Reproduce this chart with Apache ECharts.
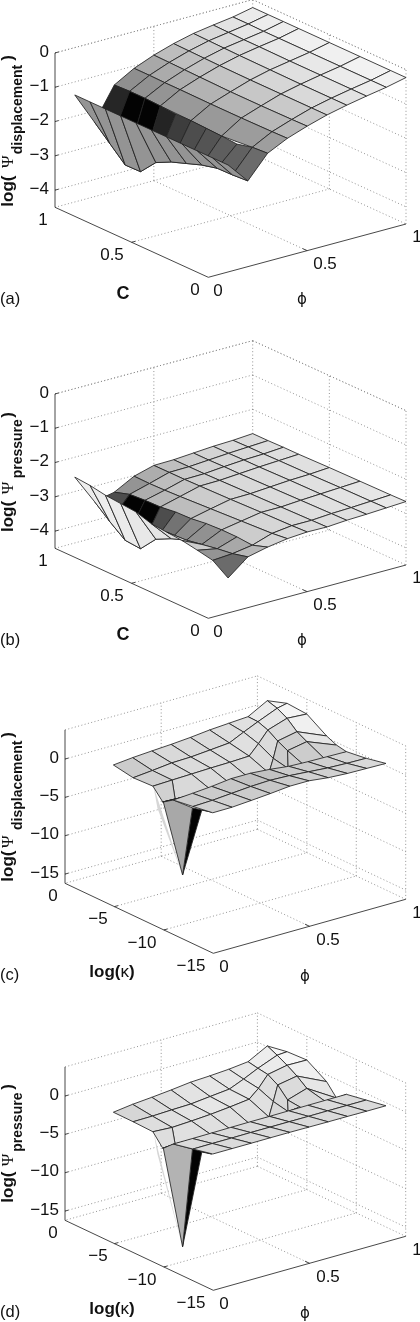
<!DOCTYPE html>
<html><head><meta charset="utf-8">
<style>html,body{margin:0;padding:0;background:#fff}#c{width:420px;height:1322px}</style>
<script src="https://cdn.jsdelivr.net/npm/echarts@6/dist/echarts.min.js"></script>
</head><body><div id="c"></div>
<script>
// ---------- data ----------
const phiGrid = [0.1,0.2,0.3,0.4,0.5,0.6,0.7,0.8,0.9,1];
const cGrid = [1,0.9,0.8,0.7,0.6,0.5,0.4,0.3,0.2,0.1,0];
const rearColumns = [0,1,2,3,5,7,9,10]; // the mesh is coarser behind the front rows
const zA = [
 [-1.38,-1.38,-1.38,-1.38,-1.38,-1.38,-1.38,-1.38,-1.38,-1.38,-1.38],
 [-2.33,-2.75,-3.17,-3.16,-2.69,-2.47,-2.31,-2.15,-2.04,-2.03,-2.00],
 [-1.40,-1.38,-1.38,-1.40,-1.43,-1.42,-1.44,-1.46,-1.49,-1.38,-1.35],
 [-1.07,-1.07,-1.08,-1.08,-1.09,-1.09,-1.09,-1.09,-1.08,-1.08,-1.07],
 [-0.84,-0.85,-0.86,-0.87,-0.88,-0.89,-0.89,-0.89,-0.88,-0.88,-0.87],
 [-0.66,-0.67,-0.68,-0.69,-0.70,-0.70,-0.70,-0.70,-0.70,-0.70,-0.70],
 [-0.52,-0.53,-0.54,-0.55,-0.56,-0.56,-0.57,-0.57,-0.57,-0.57,-0.57],
 [-0.43,-0.44,-0.45,-0.45,-0.46,-0.46,-0.46,-0.46,-0.46,-0.46,-0.46],
 [-0.35,-0.35,-0.36,-0.36,-0.36,-0.36,-0.36,-0.36,-0.36,-0.36,-0.36],
 [-0.23,-0.23,-0.23,-0.23,-0.23,-0.23,-0.23,-0.23,-0.23,-0.23,-0.23]
];
const shadeAFront = [
 [.58,.58,.58,.58,.58,.58,.58,.58,.58,.58],
 [.15,.01,.01,.14,.24,.30,.33,.37,.38,.42]
];
const shadeARear = [
 [.56,.57,.58,.60,.60,.61,.62],
 [.66,.67,.68,.70,.71,.72,.72],
 [.74,.75,.76,.77,.78,.79,.79],
 [.81,.81,.82,.83,.84,.85,.85],
 [.85,.86,.86,.87,.88,.89,.89],
 [.89,.90,.90,.91,.91,.92,.93],
 [.92,.93,.93,.94,.94,.95,.95],
 [.96,.96,.96,.97,.97,.97,.97]
];
const zB = [
 [-2.58,-2.62,-2.70,-2.74,-2.78,-2.92,-2.96,-3.00,-3.08,-3.17,-3.48],
 [-3.45,-3.83,-4.17,-4.21,-3.73,-3.51,-3.35,-3.27,-3.19,-3.13,-3.02],
 [-3.33,-3.19,-3.16,-3.15,-3.09,-3.08,-3.02,-3.00,-3.00,-3.04,-2.89],
 [-3.02,-3.03,-3.02,-3.00,-2.97,-2.95,-2.92,-2.90,-2.88,-2.85,-2.80],
 [-2.86,-2.86,-2.86,-2.85,-2.84,-2.83,-2.82,-2.80,-2.79,-2.78,-2.76],
 [-2.85,-2.85,-2.85,-2.84,-2.83,-2.82,-2.81,-2.80,-2.79,-2.78,-2.77],
 [-2.81,-2.81,-2.80,-2.80,-2.79,-2.78,-2.77,-2.76,-2.75,-2.74,-2.73],
 [-2.77,-2.77,-2.76,-2.76,-2.75,-2.74,-2.74,-2.73,-2.72,-2.72,-2.71],
 [-2.75,-2.74,-2.74,-2.73,-2.72,-2.72,-2.71,-2.70,-2.70,-2.69,-2.68],
 [-2.71,-2.71,-2.70,-2.70,-2.69,-2.68,-2.68,-2.67,-2.66,-2.66,-2.65]
];
const shadeBFront = [
 [.93,.93,.92,.91,.90,.88,.86,.80,.58,.42],
 [.30,.01,.01,.30,.45,.55,.57,.60,.66,.72]
];
const shadeBRear = [
 [.58,.68,.72,.74,.77,.80,.84],
 [.68,.74,.77,.80,.82,.84,.85],
 [.75,.79,.81,.83,.84,.85,.86],
 [.80,.82,.83,.85,.86,.87,.87],
 [.83,.84,.85,.86,.87,.88,.88],
 [.85,.85,.86,.87,.88,.89,.89],
 [.86,.87,.87,.88,.89,.90,.91],
 [.88,.88,.89,.90,.90,.91,.92]
];
const phiUpper = [0.2,0.3,0.4,0.5,0.6,0.7,0.8,0.9,1,1];
const kappaUpper = [
 [-1,-3,-5,-6,-6,-6],[-1,-3,-5,-5.3,-5.3,-5.3],[-1,-3,-5,-7,-8,-8],[-1,-3,-5,-7,-8,-8],[-1,-3,-5,-7,-8,-8],
 [-1,-3,-5,-7,-8,-8],[-1,-2.5,-4,-5.5,-7,-8],[-1,-2,-3,-4,-5,-6.5],[-1,-2,-3,-4,-5,-7],[-1,-3,-5,-7,-8,-9]
];
const zUpperC = [
 [-1.57,-2.02,-1.90,-3.36,-3.36,-3.36],
 [-1.32,-1.78,-1.81,-4.10,-4.10,-4.10],
 [-1.15,-1.50,-1.73,-2.60,-1.90,-1.90],
 [-1.00,-1.43,-1.65,-2.50,-1.70,-1.70],
 [-0.80,-1.22,-1.60,-2.50,-1.70,-1.70],
 [-0.53,-1.00,-1.50,-2.50,-2.00,-2.00],
 [-0.36,-0.60,-1.20,-2.20,-2.60,-1.60],
 [-0.20,-0.25,-0.73,-1.55,-2.20,-3.00],
 [1.18,0.80,0.10,-1.04,-1.73,-3.00],
 [1.18,2.05,1.87,0.23,-0.35,-0.60]
];
const shadeUpperC = [
 [.80,.82,.82,.82,.82],[.84,.85,.85,.84,.84],[.85,.86,.86,.84,.84],[.85,.87,.86,.84,.84],[.86,.87,.86,.83,.83],
 [.87,.88,.86,.82,.82],[.88,.88,.86,.80,.80],[.92,.90,.86,.81,.80],[.96,.96,.94,.90,.82]
];
const zUpperD = [
 [-2.91,-2.93,-3.02,-4.57,-4.57,-4.57],
 [-2.58,-2.90,-3.16,-5.14,-5.14,-5.14],
 [-2.37,-2.80,-3.03,-3.60,-2.60,-2.60],
 [-2.12,-2.73,-2.86,-3.60,-2.60,-2.60],
 [-1.82,-2.46,-2.61,-3.60,-2.60,-2.60],
 [-1.70,-2.20,-2.30,-3.40,-2.60,-2.60],
 [-1.53,-1.90,-2.20,-3.00,-3.40,-2.30],
 [-1.25,-1.50,-1.70,-2.46,-3.80,-4.00],
 [0.10,-0.50,-1.20,-2.00,-3.00,-3.60],
 [0.10,0.57,0.70,-0.90,-2.43,-1.34]
];
const shadeUpperD = [
 [.84,.87,.87,.86,.86],[.87,.88,.88,.86,.86],[.88,.89,.88,.85,.85],[.89,.90,.88,.85,.85],[.90,.90,.88,.85,.85],
 [.90,.90,.88,.85,.85],[.91,.90,.87,.85,.85],[.93,.92,.88,.86,.85],[.97,.97,.94,.90,.88]
];
const phiSheet = [0.1,0.2,0.3,0.4,0.5,0.6,0.7,0.8,0.9,1];
const kappaSheet = [-9,-11,-13];
const zSheetC = [
 [-0.57,-0.20,0.20],[-0.40,-0.10,0.22],[-0.20,0.10,0.40],[0.10,0.30,0.60],[0.10,0.40,0.85],
 [-0.10,0.30,0.85],[-0.40,0.10,0.55],[-0.50,-0.10,0.40],[-0.55,-0.20,0.35],[-0.60,-0.25,0.30]
];
const shadeSheetC = [
 [.80,.82],[.80,.82],[.78,.80],[.76,.78],[.76,.80],[.80,.82],[.80,.82],[.82,.83],[.84,.85]
];
const zSheetD = [
 [-1.48,-0.92,-0.35],[-1.47,-0.90,-0.35],[-1.45,-0.90,-0.35],[-1.42,-0.88,-0.34],[-1.40,-0.88,-0.34],
 [-1.40,-0.88,-0.36],[-1.38,-0.88,-0.38],[-1.36,-0.87,-0.38],[-1.35,-0.87,-0.40],[-1.34,-0.87,-0.40]
];
const shadeSheetD = [
 [.86,.86],[.86,.86],[.86,.86],[.86,.86],[.86,.86],[.86,.86],[.86,.86],[.86,.86],[.86,.86]
];
const phiSpike = [0.1,0.2,0.3];
const kappaSpike = [-8,-9];
const zSpikeC = [[-1.44,-0.57],[-11.66,-2.30],[-3.90,-3.55]];
const zSpikeD = [[-2.65,-1.48],[-16.2,-2.84],[-4.54,-4.20]];
const shadeSpikeC = [[.66],[.01]];
const shadeSpikeD = [[.70],[.01]];
const phiSliver = [0.1,0.2];
const kappaSliver = [[-7,-7.4],[-8,-8]];
const zSliverC = [[0.05,-2.60],[-11.66,-11.66]];
const zSliverD = [[-1.10,-3.76],[-16.2,-16.2]];
const shadeSliver = [[.84]];

const ticksC = [1,0.5,0];
const ticksKappa = [0,-5,-10,-15];
const ticksZAB = [0,-1,-2,-3,-4];
const ticksZCD = [0,-5,-10,-15];
const labelsPhi = ['0','0.5','1'];
const labelsC = ['1','0.5','0'];
const labelsKappa = ['0','\u22125','\u221210','\u221215'];
const labelsZAB = ['0','\u22121','\u22122','\u22123','\u22124'];
const labelsZCD = ['0','\u22125','\u221210','\u221215'];

// ---------- views ----------
const vC = C => 1 - C;
const vK = k => -k / 15;
function view(kind, dy, name, sub, yl) {
  const ab = kind === 'ab';
  return ab ? {ab, name, sub, yl, o:[55,207.3+dy], pu:[197.7,-53.3], pv:[153.3,70], zs:34.3, zmin:-4.5, zmax:0,
      toV:vC, zTicks:ticksZAB, zLabels:labelsZAB, vTicks:ticksC, vLabels:labelsC, vGrid:[0.5], zx:49,
      lab:{v:[[43,220],[112,255],[195,290]], p:[[218,291],[325,264],[417,237]], vt:[123,294], phi:[302,300], panel:[0,299]}}
    : {ab, name, sub, yl, o:[65,883.3+dy], pu:[192.4,-54], pv:[148.3,70], zs:7.67, zmin:-16.2, zmax:3.8,
      toV:vK, zTicks:ticksZCD, zLabels:labelsZCD, vTicks:ticksKappa, vLabels:labelsKappa, vGrid:[-5,-10], zx:59,
      lab:{v:[[53,896],[98,919],[142,943],[191,966]], p:[[224,967],[328,940],[417,913]], vt:[112,972], phi:[305,977], panel:[0,975]}};
}
const views = [
  view('ab',0,'(a)','displacement',{log:206.7,psi:161.7,sub:154.3,cl:58}),
  view('ab',341,'(b)','pressure',{log:532,psi:488,sub:478.3,cl:415}),
  view('cd',0,'(c)','displacement',{log:881.7,psi:841.7,sub:830,cl:735}),
  view('cd',337,'(d)','pressure',{log:1202.7,psi:1160,sub:1151.7,cl:1087})
];
const proj = (w,u,v,z) => [w.o[0]+w.pu[0]*u+w.pv[0]*v, w.o[1]+w.pu[1]*u+w.pv[1]*v-w.zs*(z-w.zmin)];

// ---------- meshes ----------
function cellsOf(w, us, vs, zs, shade, opts) {
  const out = [];
  const vAt = (i,j) => w.toV(Array.isArray(vs[0]) ? vs[i][j] : vs[j]);
  for (let i = us.length-2; i >= 0; i--) {
    for (let j = 0; j < zs[0].length-1; j++) {
      out.push({pts:[
        proj(w,us[i],vAt(i,j),zs[i][j]), proj(w,us[i+1],vAt(i+1,j),zs[i+1][j]),
        proj(w,us[i+1],vAt(i+1,j+1),zs[i+1][j+1]), proj(w,us[i],vAt(i,j+1),zs[i][j+1])
      ], g:shade[i][j], noStroke:opts&&opts.noStroke});
    }
  }
  return out;
}
function frontRear(w, z, front, rear) {
  const pick = r => rearColumns.map(k => r[k]);
  return [
    ...cellsOf(w, phiGrid.slice(2), pick(cGrid), z.slice(2).map(pick), rear),
    ...cellsOf(w, phiGrid.slice(0,3), cGrid, z.slice(0,3), front)
  ];
}
const cells = [
  ...frontRear(views[0],zA,shadeAFront,shadeARear),
  ...frontRear(views[1],zB,shadeBFront,shadeBRear),
  ...cellsOf(views[2],phiSliver,kappaSliver,zSliverC,shadeSliver,{noStroke:true}),
  ...cellsOf(views[2],phiUpper,kappaUpper,zUpperC,shadeUpperC),
  ...cellsOf(views[2],phiSpike,kappaSpike,zSpikeC,shadeSpikeC),
  ...cellsOf(views[2],phiSheet,kappaSheet,zSheetC,shadeSheetC),
  ...cellsOf(views[3],phiSliver,kappaSliver,zSliverD,shadeSliver,{noStroke:true}),
  ...cellsOf(views[3],phiUpper,kappaUpper,zUpperD,shadeUpperD),
  ...cellsOf(views[3],phiSpike,kappaSpike,zSpikeD,shadeSpikeD),
  ...cellsOf(views[3],phiSheet,kappaSheet,zSheetD,shadeSheetD)
];

// ---------- box, grid lines, ticks ----------
const segs = [];
views.forEach(w => {
  const d = (a,b) => segs.push({a,b,dash:true});
  const s = (a,b) => segs.push({a,b,dash:false});
  const P = (u,v,z) => proj(w,u,v,z);
  const zl = w.zmin, zh = w.zmax;
  w.zTicks.forEach(z => { d(P(0,0,z),P(1,0,z)); d(P(1,0,z),P(1,1,z)); });
  d(P(1,0,zh),P(1,1,zh)); d(P(0,0,zh),P(1,0,zh));
  d(P(1,0,zl),P(1,0,zh)); d(P(1,1,zl),P(1,1,zh)); d(P(0.5,0,zl),P(0.5,0,zh));
  d(P(1,0,zl),P(0,0,zl)); d(P(1,0,zl),P(1,1,zl));
  d(P(0.5,0,zl),P(0.5,1,zl));
  const vg = w.vGrid.map(w.toV);
  vg.forEach(v => { d(P(0,v,zl),P(1,v,zl)); d(P(1,v,zl),P(1,v,zh)); });
  s(P(0,0,zl),P(0,0,zh)); s(P(0,0,zl),P(0,1,zl)); s(P(0,1,zl),P(1,1,zl));
  w.zTicks.forEach(z => s(P(0,0,z),P(0.018,0,z)));
  vg.forEach(v => s(P(0,v,zl),P(0.018,v,zl)));
  s(P(0.5,1,zl),P(0.5,0.97,zl));
});

// ---------- text ----------
const SANS = '"Liberation Sans", Arial, sans-serif';
const texts = [];
const T = (text,x,y,size,opt={}) => texts.push(Object.assign({text,x,y,size,align:'center',weight:'normal',rot:0,font:SANS},opt));
views.forEach(w => {
  const dy = w.o[1]-(w.ab?207.3:883.3);
  w.zTicks.forEach((z,i) => T(w.zLabels[i], w.zx, proj(w,0,0,z)[1]-1, 17, {align:'right'}));
  w.vLabels.forEach((l,i) => T(l, w.lab.v[i][0], w.lab.v[i][1]+dy, 17));
  labelsPhi.forEach((l,i) => T(l, w.lab.p[i][0], w.lab.p[i][1]+dy, 17));
  if (w.ab) T('C', w.lab.vt[0], w.lab.vt[1]+dy, 18, {weight:'bold'});
  else T('{b|log(}{k|\u03BA}{b|)}', w.lab.vt[0], w.lab.vt[1]+dy, 17, {rich:{
    b:{fontSize:17,fontWeight:'bold',fontFamily:SANS,fill:'#111'},
    k:{fontSize:17,fontFamily:SANS,fill:'#111'}}});
  T('\u03D5', w.lab.phi[0], w.lab.phi[1]+dy, 15, {font:'"DejaVu Sans", sans-serif'});
  T(w.name, w.lab.panel[0], w.lab.panel[1]+dy, 16.5, {align:'left'});
  T('log(', 8, w.yl.log, 17, {rot:Math.PI/2, align:'left', weight:'bold'});
  T('\u03A8', 9, w.yl.psi, 17, {rot:Math.PI/2, font:'"Liberation Serif", serif'});
  T(w.sub, 18, w.yl.sub, 14, {rot:Math.PI/2, align:'left', weight:'bold'});
  T(')', 8, w.yl.cl, 17, {rot:Math.PI/2, weight:'bold'});
});

// ---------- chart ----------
const chart = echarts.init(document.getElementById('c'), null, {renderer:'canvas'});
const gray = g => { const v = Math.round(g*255); return `rgb(${v},${v},${v})`; };
chart.setOption({
  animation:false,
  backgroundColor:'#fff',
  grid:{left:0,right:0,top:0,bottom:0},
  xAxis:{type:'value',min:0,max:420,show:false},
  yAxis:{type:'value',min:0,max:1322,inverse:true,show:false},
  series:[
    {type:'custom',silent:true,clip:false,z:1,data:segs.map((_,i)=>[i]),
     renderItem:(p,api)=>{
       const s = segs[p.dataIndex], a = api.coord(s.a), b = api.coord(s.b);
       return {type:'line',shape:{x1:a[0],y1:a[1],x2:b[0],y2:b[1]},
         style:s.dash?{stroke:'#888',lineWidth:0.9,lineDash:[1,2.4],fill:null}:{stroke:'#333',lineWidth:0.9,fill:null}};
     }},
    {type:'custom',silent:true,clip:false,z:2,data:cells.map((_,i)=>[i]),
     renderItem:(p,api)=>{
       const c = cells[p.dataIndex];
       return {type:'polygon',shape:{points:c.pts.map(q=>api.coord(q))},
         style:{fill:gray(c.g),stroke:c.noStroke?null:'#222',lineWidth:c.noStroke?0:0.85,lineJoin:'round'}};
     }},
    {type:'custom',silent:true,clip:false,z:3,data:texts.map((_,i)=>[i]),
     renderItem:(p,api)=>{
       const t = texts[p.dataIndex], q = api.coord([t.x,t.y]);
       const style = {text:t.text,fontSize:t.size,fontFamily:t.font,fontWeight:t.weight,fill:'#111',align:t.align,verticalAlign:'middle'};
       if (t.rich) style.rich = t.rich;
       return {type:'text',x:q[0],y:q[1],rotation:t.rot,style};
     }}
  ]
});
</script></body></html>
